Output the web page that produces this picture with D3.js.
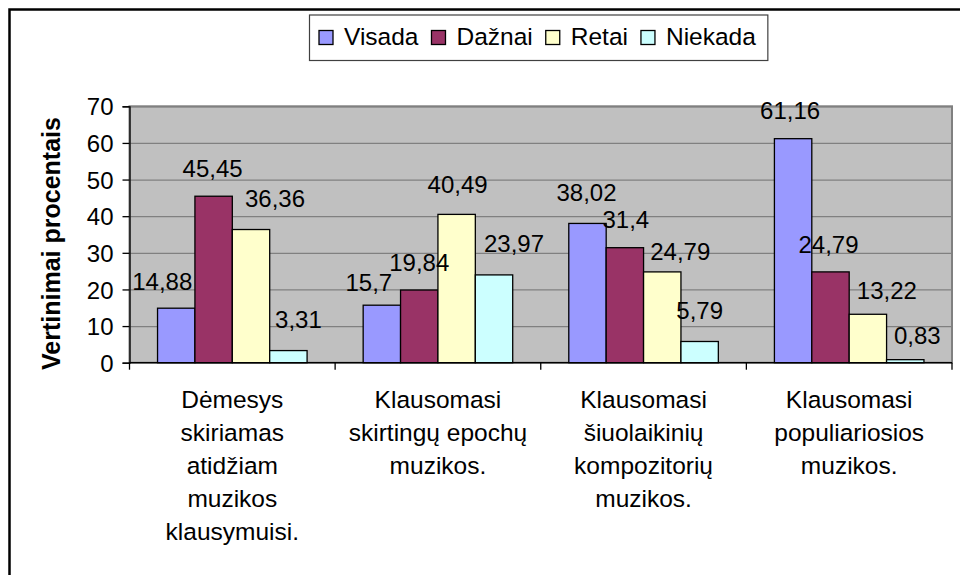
<!DOCTYPE html>
<html>
<head>
<meta charset="utf-8">
<script src="https://cdn.jsdelivr.net/npm/d3@7"></script>
<style>
  body { margin: 0; background: #fff; }
  text { font-family: "Liberation Sans", Arial, sans-serif; fill: #000; }
</style>
</head>
<body>
<script>
// Category labels, one array entry per printed line
const categories = [
  ["Dėmesys", "skiriamas", "atidžiam", "muzikos", "klausymuisi."],
  ["Klausomasi", "skirtingų epochų", "muzikos."],
  ["Klausomasi", "šiuolaikinių", "kompozitorių", "muzikos."],
  ["Klausomasi", "populiariosios", "muzikos."]
];
const seriesNames = ["Visada", "Dažnai", "Retai", "Niekada"];
const visada = [14.88, 15.7, 38.02, 61.16];
const daznai = [45.45, 19.84, 31.4, 24.79];
const retai = [36.36, 40.49, 24.79, 13.22];
const niekada = [3.31, 23.97, 5.79, 0.83];
const yTicks = [0, 10, 20, 30, 40, 50, 60, 70];
const yTitle = "Vertinimai procentais";

// hand-dragged data labels in the original: [dx, dy] per series, per category
const labelNudge = [
  [[-14, 2], [-13, 6], [-1, -2], [-3, 0]],
  [[-1, 1], [0, 1], [1, 0], [-2, 1]],
  [[24, -3], [1, -1], [18, 8], [19, 5]],
  [[10, -3], [20, -3], [0, -2], [12, 4]]
];

const colors = ["#9999FF", "#993366", "#FFFFCC", "#CCFFFF"];
const values = [visada, daznai, retai, niekada];

const width = 964, height = 575;
const plot = {left: 129.5, right: 952, top: 106.3, bottom: 362.7};

const svg = d3.select("body").append("svg")
  .attr("width", width)
  .attr("height", height);

// outer frame (cut off at right and bottom)
svg.append("path")
  .attr("d", `M9.5,${height} V9.5 H960`)
  .attr("fill", "none")
  .attr("stroke", "#000")
  .attr("stroke-width", 2.5);

const catKeys = d3.range(categories.length);

const x0 = d3.scaleBand()
  .domain(catKeys)
  .range([plot.left, plot.right])
  .padding(0);

const x1 = d3.scaleBand()
  .domain(seriesNames)
  .range([0, x0.bandwidth()])
  .paddingInner(0)
  .paddingOuter(0.75);

const y = d3.scaleLinear()
  .domain([0, 70])
  .range([plot.bottom, plot.top]);

// plot area
svg.append("rect")
  .attr("x", plot.left)
  .attr("y", plot.top)
  .attr("width", plot.right - plot.left)
  .attr("height", plot.bottom - plot.top)
  .attr("fill", "#C0C0C0")
  .attr("stroke", "#808080")
  .attr("stroke-width", 2);

// gridlines
svg.append("g")
  .attr("transform", `translate(${plot.left},0)`)
  .call(d3.axisLeft(y).tickValues(yTicks).tickSize(-(plot.right - plot.left)).tickFormat(""))
  .call(g => g.select(".domain").remove())
  .call(g => g.selectAll("line").attr("stroke", "#808080").attr("stroke-width", 1.2));

// bars
const groups = svg.append("g").selectAll("g")
  .data(catKeys)
  .join("g")
  .attr("transform", c => `translate(${x0(c)},0)`);

groups.selectAll("rect")
  .data(c => seriesNames.map((s, i) => ({s, i, c, v: values[i][c]})))
  .join("rect")
  .attr("x", d => x1(d.s))
  .attr("y", d => y(d.v))
  .attr("width", x1.bandwidth())
  .attr("height", d => y(0) - y(d.v))
  .attr("fill", d => colors[d.i])
  .attr("stroke", "#000")
  .attr("stroke-width", 1.3);

// y axis
const yAxis = svg.append("g")
  .attr("transform", `translate(${plot.left},0)`)
  .call(d3.axisLeft(y).tickValues(yTicks).tickSize(7).tickPadding(9));
yAxis.select(".domain").attr("stroke", "#000").attr("stroke-width", 1.3);
yAxis.selectAll("line").attr("stroke", "#000").attr("stroke-width", 1.3);
yAxis.selectAll("text")
  .attr("font-size", 24)
  .attr("font-family", "Liberation Sans, Arial, sans-serif")
  .attr("dy", "0.36em");

// x axis line and boundary ticks
svg.append("line")
  .attr("x1", plot.left).attr("x2", plot.right)
  .attr("y1", y(0)).attr("y2", y(0))
  .attr("stroke", "#000").attr("stroke-width", 1.3);

svg.append("g").selectAll("line")
  .data(catKeys.concat([catKeys.length]))
  .join("line")
  .attr("x1", c => c < catKeys.length ? x0(c) : x0(c - 1) + x0.bandwidth())
  .attr("x2", c => c < catKeys.length ? x0(c) : x0(c - 1) + x0.bandwidth())
  .attr("y1", y(0)).attr("y2", y(0) + 7)
  .attr("stroke", "#000").attr("stroke-width", 1.3);

// category labels
svg.append("g").selectAll("text")
  .data(catKeys)
  .join("text")
  .attr("text-anchor", "middle")
  .attr("font-size", 24.5)
  .attr("x", c => x0(c) + x0.bandwidth() / 2)
  .attr("y", y(0) + 45)
  .selectAll("tspan")
  .data(c => categories[c].map((line, k) => ({line, k, c})))
  .join("tspan")
  .attr("x", d => x0(d.c) + x0.bandwidth() / 2)
  .attr("dy", d => d.k === 0 ? 0 : 33)
  .text(d => d.line);

// data labels
groups.selectAll("text.val")
  .data(c => seriesNames.map((s, i) => ({s, i, c, v: values[i][c]})))
  .join("text")
  .attr("class", "val")
  .attr("text-anchor", "middle")
  .attr("font-size", 24)
  .attr("x", d => x1(d.s) + x1.bandwidth() / 2 + labelNudge[d.i][d.c][0])
  .attr("y", d => y(d.v) - 20 + labelNudge[d.i][d.c][1])
  .text(d => String(d.v).replace(".", ","));

// y title
svg.append("text")
  .attr("transform", `translate(60,${(plot.top + plot.bottom) / 2 + 9}) rotate(-90)`)
  .attr("text-anchor", "middle")
  .attr("font-size", 25)
  .attr("font-weight", "bold")
  .text(yTitle);

// legend
const legend = svg.append("g");
const legendBox = legend.append("rect")
  .attr("x", 309.5).attr("y", 15)
  .attr("height", 45.5)
  .attr("fill", "#fff")
  .attr("stroke", "#404040")
  .attr("stroke-width", 1.2);

let lx = 319;
seriesNames.forEach((name, i) => {
  legend.append("rect")
    .attr("x", lx).attr("y", 30.5)
    .attr("width", 14).attr("height", 14)
    .attr("fill", colors[i])
    .attr("stroke", "#000")
    .attr("stroke-width", 1.3);
  const t = legend.append("text")
    .attr("x", lx + 25).attr("y", 45)
    .attr("font-size", 24.5)
    .text(name);
  lx += 25 + t.node().getComputedTextLength() + 13;
});
legendBox.attr("width", lx - 309.5 - 1);
</script>
</body>
</html>
